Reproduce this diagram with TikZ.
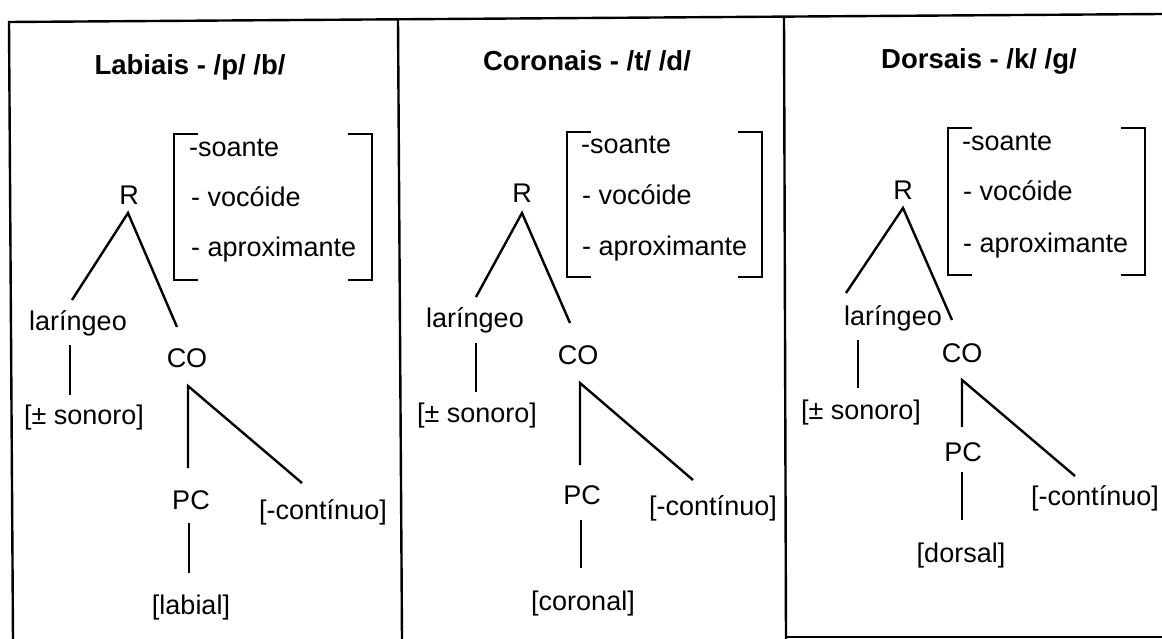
\documentclass[tikz,border=0pt]{standalone}
\usepackage{fontspec}
\setmainfont{Liberation Sans}
\usetikzlibrary{calc}
\begin{document}
\begin{tikzpicture}[x=1pt,y=-1pt,
  lbl/.style={inner sep=0pt, text height=19.5pt, text depth=5.5pt, font=\fontsize{27}{32}\selectfont},
  ttl/.style={inner sep=0pt, text height=19.5pt, text depth=5.5pt, font=\fontsize{27.5}{32}\selectfont\bfseries},
  feat/.style={lbl, anchor=west},
  edge/.style={line width=2.4pt},
  frame/.style={line width=2.4pt},
  brk/.style={line width=2.4pt}]
\useasboundingbox (0,0) rectangle (1162,639);

% frame
\coordinate (tl) at (9,22);
\coordinate (tr) at (1162,14);
\coordinate (bl) at (13,639);
\coordinate (d1t) at (398,20);
\coordinate (d1b) at (402,639);
\coordinate (d2t) at (784,17);
\coordinate (d2b) at (786,639);
\coordinate (bb1) at (786,637);
\coordinate (bb2) at (1162,637);
\draw[frame] (tr) -- (tl) -- (bl);
\draw[frame] (d1t) -- (d1b);
\draw[frame] (d2t) -- (d2b);
\draw[frame] (bb1) -- (bb2);

% ---------- Panel 1 ----------
\node[ttl] (title1) at (190,68) {Labiais - /p/ /b/};
\node[lbl] (R1) at (129,198) {R};
\node[feat] (f1a) at (189,150) {-soante};
\node[feat] (f1b) at (191,200) {- vocóide};
\node[feat] (f1c) at (191,249) {- aproximante};
\draw[brk] (198,134) -- (174,134) -- (174,280) -- (198,280);
\draw[brk] (348,134) -- (372,134) -- (372,280) -- (348,280);
\node[lbl] (lar1) at (78,323) {laríngeo};
\node[lbl] (son1) at (84,417) {[± sonoro]};
\node[lbl] (CO1) at (187,360) {CO};
\node[lbl] (PC1) at (191,502) {PC};
\node[lbl] (cont1) at (323,512) {[-contínuo]};
\node[lbl] (lab1) at (191,607) {[labial]};
\draw[edge] ($(lar1)+(-6,-23)$) -- ($(R1)+(-1,15)$) -- ($(CO1)+(-10,-33)$);
\draw[edge] ($(lar1)+(-8,22)$) -- ($(son1)+(-14,-22)$);
\draw[edge] ($(PC1)+(-3,-34)$) -- ($(CO1)+(1,26)$) -- ($(cont1)+(-21,-29)$);
\draw[edge] ($(PC1)+(-2,21)$) -- ($(lab1)+(-2,-34)$);

% ---------- Panel 2 ----------
\node[ttl] (title2) at (587,64) {Coronais - /t/ /d/};
\node[lbl] (R2) at (522,196) {R};
\node[feat] (f2a) at (581,147) {-soante};
\node[feat] (f2b) at (582,198) {- vocóide};
\node[feat] (f2c) at (582,248) {- aproximante};
\draw[brk] (591,132) -- (567,132) -- (567,277) -- (591,277);
\draw[brk] (738,132) -- (762,132) -- (762,277) -- (738,277);
\node[lbl] (lar2) at (475,320) {laríngeo};
\node[lbl] (son2) at (477,415) {[± sonoro]};
\node[lbl] (CO2) at (578,357) {CO};
\node[lbl] (PC2) at (582,497) {PC};
\node[lbl] (cont2) at (713,508) {[-contínuo]};
\node[lbl] (cor2) at (583,603) {[coronal]};
\draw[edge] ($(lar2)+(1,-23)$) -- ($(R2)+(0,17)$) -- ($(CO2)+(-8,-34)$);
\draw[edge] ($(lar2)+(1,23)$) -- ($(son2)+(-1,-23)$);
\draw[edge] ($(PC2)+(-2,-32)$) -- ($(CO2)+(2,26)$) -- ($(cont2)+(-20,-28)$);
\draw[edge] ($(PC2)+(-1,23)$) -- ($(cor2)+(-2,-35)$);

% ---------- Panel 3 ----------
\node[ttl] (title3) at (979,62) {Dorsais - /k/ /g/};
\node[lbl] (R3) at (903,193) {R};
\node[feat] (f3a) at (962,144) {-soante};
\node[feat] (f3b) at (963,194) {- vocóide};
\node[feat] (f3c) at (963,245) {- aproximante};
\draw[brk] (972,128) -- (948,128) -- (948,275) -- (972,275);
\draw[brk] (1121,128) -- (1145,128) -- (1145,275) -- (1121,275);
\node[lbl] (lar3) at (893,318) {laríngeo};
\node[lbl] (son3) at (861,412) {[± sonoro]};
\node[lbl] (CO3) at (962,355) {CO};
\node[lbl] (PC3) at (963,454) {PC};
\node[lbl] (cont3) at (1095,498) {[-contínuo]};
\node[lbl] (dor3) at (961,555) {[dorsal]};
\draw[edge] ($(lar3)+(-47,-25)$) -- ($(R3)+(0,15)$) -- ($(CO3)+(-10,-35)$);
\draw[edge] ($(lar3)+(-35,22)$) -- ($(son3)+(-3,-24)$);
\draw[edge] ($(PC3)+(-1,-27)$) -- ($(CO3)+(0,25)$) -- ($(cont3)+(-20,-22)$);
\draw[edge] ($(PC3)+(-1,18)$) -- ($(dor3)+(1,-35)$);
\end{tikzpicture}
\end{document}
